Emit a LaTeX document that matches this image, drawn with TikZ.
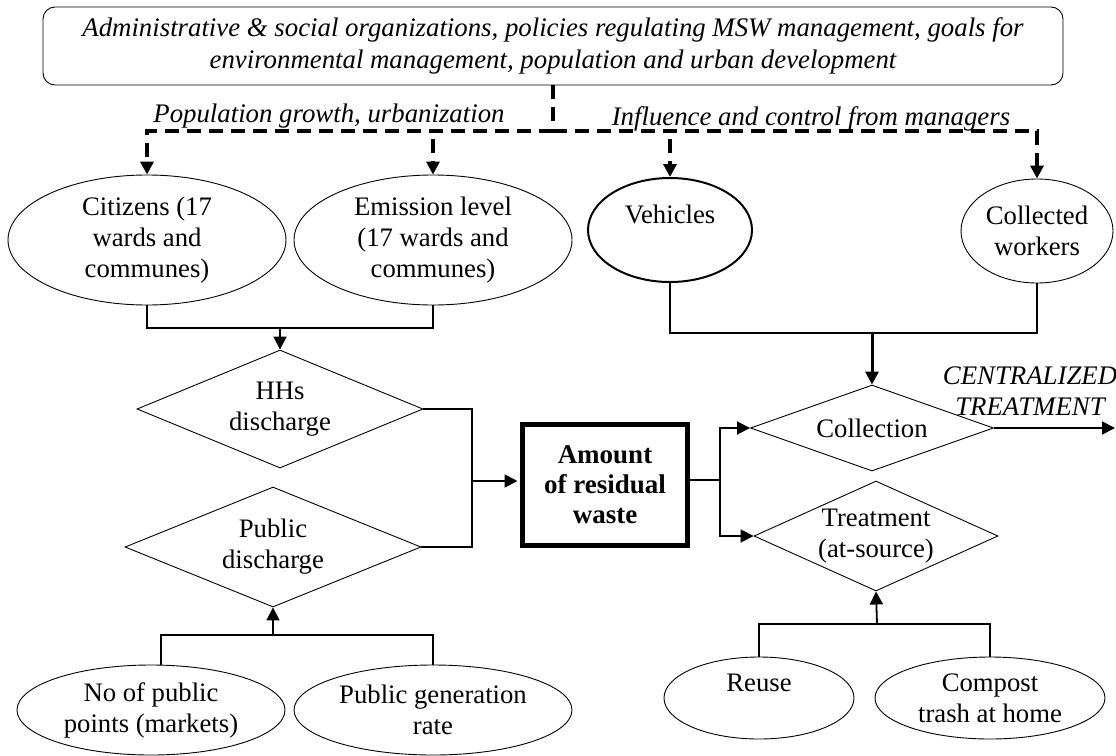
\documentclass[tikz,border=0pt]{standalone}
\usepackage{fontspec}
\setmainfont{Liberation Serif}
\usetikzlibrary{shapes.geometric,arrows.meta}
\begin{document}
\begin{tikzpicture}[x=1pt,y=-1pt,
  every node/.style={font=\fontsize{26.7}{31}\selectfont, align=center, inner sep=0pt},
  oval/.style={draw, ellipse, line width=0.9pt},
  dia/.style={draw, diamond, aspect=2.2, line width=0.9pt},
  conn/.style={line width=1.8pt},
  tip/.style={-{Triangle[length=13pt,width=13pt]}},
  dash line/.style={line width=3.5pt, dash pattern=on 14pt off 8pt},
  lab/.style={font=\fontsize{26.8}{31}\selectfont\itshape}
]
\useasboundingbox (0,0) rectangle (1116,755);

% nodes
\node[draw, rounded corners=12pt, line width=0.9pt, minimum width=1020pt, minimum height=78pt,
      font=\fontsize{26.8}{32}\selectfont\itshape] (top) at (553,46)
  {Administrative \& social organizations, policies regulating MSW management, goals for\\environmental management, population and urban development};

\node[oval, minimum width=278pt, minimum height=130pt] (cit) at (147,240) {Citizens (17\\wards and\\communes)};
\node[oval, minimum width=278pt, minimum height=130pt] (emi) at (433,240) {Emission level\\(17 wards and\\communes)};
\node[oval, line width=2pt, minimum width=164pt, minimum height=104pt] (veh) at (670,230) {Vehicles\\~};
\node[oval, minimum width=152pt, minimum height=104pt] (cw) at (1037,231) {Collected\\workers};

\node[dia, minimum width=286pt, minimum height=118pt] (hhs) at (280,409) {HHs\\discharge};
\node[dia, minimum width=296pt, minimum height=120pt] (pub) at (273,547) {Public\\discharge};
\node[draw, line width=5pt, minimum width=165pt, minimum height=121pt, font=\fontsize{27}{30}\selectfont\bfseries] (amt) at (605,485) {Amount\\of residual\\waste};
\node[dia, minimum width=243pt, minimum height=86pt] (cln) at (872,428) {Collection};
\node[dia, minimum width=244pt, minimum height=110pt] (trt) at (876,536) {Treatment\\(at-source)};

\node[lab] (cent) at (1030,391) {CENTRALIZED\\TREATMENT};

\node[oval, minimum width=268pt, minimum height=90pt] (np) at (151,710) {No of public\\points (markets)};
\node[oval, minimum width=278pt, minimum height=90pt] (pg) at (433,710) {Public generation\\rate};
\node[oval, minimum width=190pt, minimum height=82pt] (reu) at (759,698) {Reuse\\~};
\node[oval, minimum width=230pt, minimum height=82pt] (cmp) at (990,698) {Compost\\trash at home};

\node[lab] (l1) at (329,116) {Population growth, urbanization};
\node[lab] (l2) at (811,119) {Influence and control from managers};

% coordinates
\coordinate (hub) at (553,131);
\coordinate (j1) at (280,328);
\coordinate (j2) at (472,481);
\coordinate (j3) at (720,480);
\coordinate (j4) at (872,333);
\coordinate (j5) at (273,635);
\coordinate (j6) at (877,624);
\coordinate (out) at (1115,428);

% dashed influence lines
\draw[dash line] (top.south) -- (hub);
\draw[dash line, tip] (hub) -| (cit.north);
\draw[dash line, tip] (hub) -| (cw.north);
\draw[dash line, tip, dash phase=14pt] (emi.north |- hub) -- (emi.north);
\draw[dash line, tip, dash phase=14pt] (veh.north |- hub) -- (veh.north);

% connectors
\draw[conn] (cit.south) |- (j1) -| (emi.south);
\draw[conn, tip] (j1) -- (hhs.north);

\draw[conn] (hhs.east) -| (j2);
\draw[conn] (pub.east) -| (j2);
\draw[conn, tip, shorten >=2.5pt] (j2) -- (amt.west |- j2);

\draw[conn] (amt.east |- j3) -- (j3);
\draw[conn, tip] (j3) |- (cln.west);
\draw[conn, tip] (j3) |- (trt.west);

\draw[conn] (veh.south) |- (j4) -| (cw.south);
\draw[line width=3pt, tip] (j4) -- (cln.north);
\draw[conn, tip] (cln.east) -- (out);

\draw[conn] ([xshift=10pt]np.north) |- (j5) -| (pg.north);
\draw[conn, tip] (j5) -- (pub.south);

\draw[conn] (reu.north) |- (j6) -| (cmp.north);
\draw[conn, tip] (j6) -- (trt.south);
\end{tikzpicture}
\end{document}
